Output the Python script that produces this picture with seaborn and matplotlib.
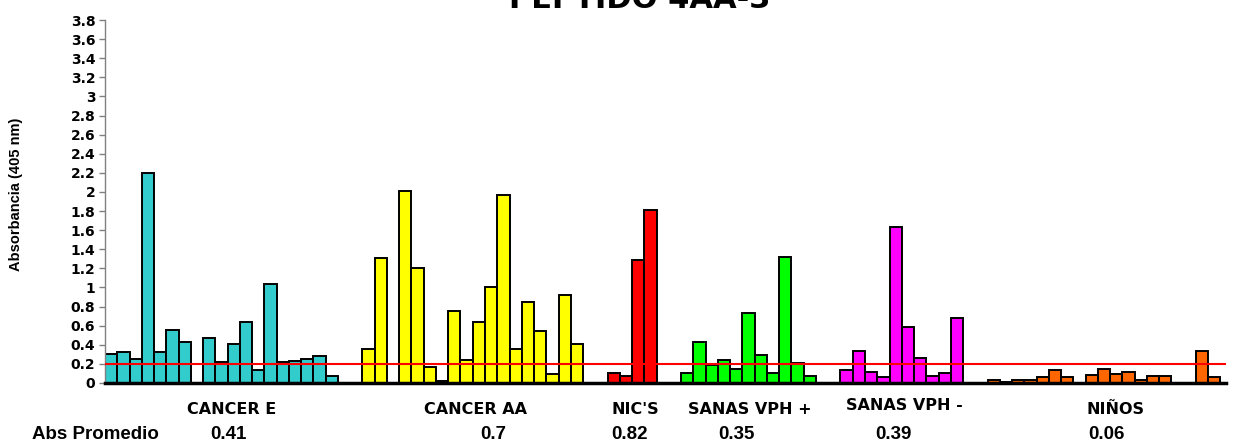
import numpy as np
import pandas as pd
import matplotlib
matplotlib.use("Agg")
import matplotlib.pyplot as plt
import seaborn as sns
from matplotlib import font_manager

nan = np.nan

# ---- data ----
groups = ["CANCER E", "CANCER AA", "NIC'S", "SANAS VPH +", "SANAS VPH -", "NIÑOS"]
cancer_e = [0.30, 0.32, 0.25, 2.20, 0.32, 0.55, 0.43, nan, 0.47, 0.22, 0.41, 0.64,
            0.14, 1.04, 0.22, 0.23, 0.25, 0.28, 0.07]
cancer_aa = [0.36, 1.31, nan, 2.01, 1.20, 0.17, 0.02, 0.75, 0.24, 0.64, 1.00, 1.97,
             0.36, 0.85, 0.54, 0.09, 0.92, 0.41]
nics = [0.10, 0.07, 1.29, 1.81]
sanas_pos = [0.10, 0.43, 0.19, 0.24, 0.15, 0.73, 0.29, 0.10, 1.32, 0.21, 0.07]
sanas_neg = [0.14, 0.34, 0.12, 0.06, 1.63, 0.59, 0.26, 0.07, 0.10, 0.68]
ninos = [0.03, 0.01, 0.03, 0.03, 0.06, 0.14, 0.06, nan, 0.08, 0.15, 0.09, 0.12,
         0.03, 0.07, 0.07, nan, nan, 0.33, 0.06]
series = [cancer_e, cancer_aa, nics, sanas_pos, sanas_neg, ninos]
abs_promedio = ["0.41", "0.7", "0.82", "0.35", "0.39", "0.06"]
cutoff = 0.2
yticks = [0, 0.2, 0.4, 0.6, 0.8, 1, 1.2, 1.4, 1.6, 1.8, 2, 2.2, 2.4, 2.6, 2.8, 3,
          3.2, 3.4, 3.6, 3.8]
title = "PEPTIDO 4AA-3"
ylabel = "Absorbancia (405 nm)"

colors = {"CANCER E": "#33CCCC", "CANCER AA": "#FFFF00", "NIC'S": "#FF0000",
          "SANAS VPH +": "#00FF00", "SANAS VPH -": "#FF00FF", "NIÑOS": "#FF6600"}

# ---- build table: consecutive slots, 2 empty slots between groups ----
rows = []
start = 0
for g, vals in zip(groups, series):
    for i, v in enumerate(vals):
        rows.append((g, start + i, v))
    start += len(vals) + 2
df = pd.DataFrame(rows, columns=["grupo", "pos", "abs"]).dropna()

sns.set_style("white")
avail = {f.name for f in font_manager.fontManager.ttflist}
narrow = "Liberation Sans Narrow" if "Liberation Sans Narrow" in avail else "Liberation Sans"
plt.rcParams["font.family"] = ["DejaVu Sans"]
plt.rcParams["text.color"] = "black"
plt.rcParams["axes.labelcolor"] = "black"
plt.rcParams["ytick.labelcolor"] = "black"

W, H = 1238, 441
fig = plt.figure(figsize=(W / 100, H / 100), dpi=100)
ax = fig.add_axes([105 / W, 58 / H, (1226 - 105) / W, (383 - 20) / H])

sns.barplot(data=df, x="pos", y="abs", hue="grupo", palette=colors,
            saturation=1, native_scale=True, width=1, dodge=False,
            edgecolor="black", linewidth=1.4, legend=False, ax=ax, zorder=2)

ax.axhline(cutoff, color="#FF0000", lw=1.5, zorder=4)

ax.set_xlim(-0.5, 90.95)
ax.set_ylim(0, 3.8)
ax.set_yticks(yticks)
ax.set_yticklabels([f"{t:g}" for t in yticks], fontsize=10, fontweight="bold",
                   color="black")
ax.set_xticks([])
ax.set_xlabel("")
ax.set_ylabel(ylabel, fontsize=10.5, fontweight="bold", family=narrow, color="black")
ax.yaxis.set_label_coords(-82 / (1226 - 105), 0.52)
ax.tick_params(axis="y", which="major", left=True, length=4, width=1,
               color="#808080", pad=3)
for s in ["top", "right"]:
    ax.spines[s].set_visible(False)
ax.spines["left"].set_color("#808080")
ax.spines["left"].set_linewidth(1)
ax.spines["bottom"].set_color("black")
ax.spines["bottom"].set_linewidth(2.5)
ax.spines["bottom"].set_zorder(5)

fig.text(640 / W, 1 - 8 / H, title, ha="center", va="baseline",
         fontsize=22, fontweight="bold", color="black")

label_x = [232, 476, 635, 750, 904, 1115]
label_y = [409, 409, 409, 409, 406, 409]
value_x = [228, 493, 630, 736, 893, 1106]
for g, x, y in zip(groups, label_x, label_y):
    fig.text(x / W, 1 - y / H, g, ha="center", va="center", fontsize=11.5,
             fontweight="bold", color="black")
fig.text(32 / W, 1 - 439 / H, "Abs Promedio", ha="left", va="baseline",
         fontsize=13.5, fontweight="bold", family="Liberation Sans", color="black")
for v, x in zip(abs_promedio, value_x):
    fig.text(x / W, 1 - 439 / H, v, ha="center", va="baseline", fontsize=13.5,
             fontweight="bold", family="Liberation Sans", color="black")

fig.savefig("out.png", dpi=100)
